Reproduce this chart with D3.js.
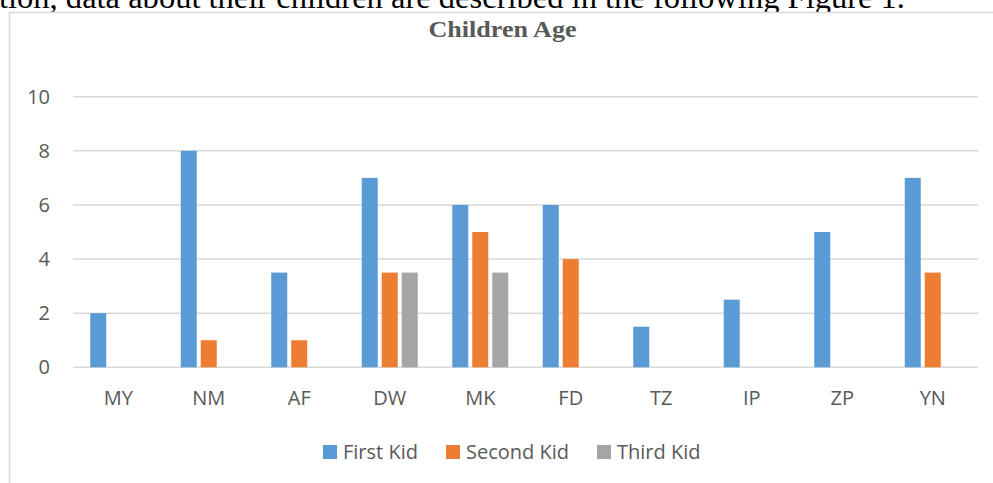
<!DOCTYPE html>
<html>
<head>
<meta charset="utf-8">
<script src="https://cdn.jsdelivr.net/npm/d3@7"></script>
<style>
  html, body { margin: 0; padding: 0; background: #fff; overflow: hidden; }
  svg { display: block; }
</style>
</head>
<body>
<svg id="chart" width="993" height="483"></svg>
<script>
// Chart data
const categories = ["MY", "NM", "AF", "DW", "MK", "FD", "TZ", "IP", "ZP", "YN"];
const seriesNames = ["First Kid", "Second Kid", "Third Kid"];
const firstKid  = [2, 8, 3.5, 7, 6, 6, 1.5, 2.5, 5, 7];
const secondKid = [0, 1, 1, 3.5, 5, 4, 0, 0, 0, 3.5];
const thirdKid  = [0, 0, 0, 3.5, 3.5, 0, 0, 0, 0, 0];
const yTicks = [0, 2, 4, 6, 8, 10];
const colors = ["#5b9bd5", "#ed7d31", "#a5a5a5"];

const series = [firstKid, secondKid, thirdKid];
const svg = d3.select("#chart");
const labelFont = "Open Sans, sans-serif";

// Running text of the document above the figure
svg.append("text")
  .attr("x", -1).attr("y", 8)
  .attr("font-family", "Liberation Serif, serif")
  .attr("font-size", 32)
  .attr("textLength", 906)
  .attr("lengthAdjust", "spacingAndGlyphs")
  .attr("fill", "#000")
  .text("tion, data about their children are described in the following Figure 1.");

// Chart frame
svg.append("rect")
  .attr("x", 9.5).attr("y", 12.5)
  .attr("width", 1100).attr("height", 600)
  .attr("fill", "#fff")
  .attr("stroke", "#d9d9d9")
  .attr("stroke-width", 1.5);

// Title
svg.append("text")
  .attr("x", 502.5).attr("y", 37)
  .attr("text-anchor", "middle")
  .attr("font-family", "Liberation Serif, serif")
  .attr("font-weight", "bold")
  .attr("font-size", 23)
  .attr("textLength", 148)
  .attr("lengthAdjust", "spacingAndGlyphs")
  .attr("fill", "#595959")
  .text("Children Age");

const x0 = d3.scaleBand().domain(categories).range([73, 978]);
const y = d3.scaleLinear().domain([0, 10]).range([367.3, 96.7]);
const x1 = d3.scaleBand().domain(d3.range(3)).range([-28, 28]).paddingInner(0.2);

// Gridlines
svg.append("g")
  .selectAll("line")
  .data(yTicks)
  .join("line")
  .attr("x1", 73).attr("x2", 978)
  .attr("y1", d => y(d)).attr("y2", d => y(d))
  .attr("stroke", "#d9d9d9")
  .attr("stroke-width", 1.5);

// Y axis labels
const yAxis = d3.axisLeft(y).tickValues(yTicks).tickSize(0).tickPadding(0);
const gy = svg.append("g").attr("transform", "translate(50,0)").call(yAxis);
gy.select(".domain").remove();
gy.selectAll("text")
  .attr("font-family", labelFont)
  .attr("font-size", 20)
  .attr("fill", "#595959");

// X axis labels
const xAxis = d3.axisBottom(x0).tickSize(0).tickPadding(0);
const gx = svg.append("g").attr("transform", "translate(0,405)").call(xAxis);
gx.select(".domain").remove();
gx.selectAll("text")
  .attr("dy", 0)
  .attr("font-family", labelFont)
  .attr("font-size", 20)
  .attr("fill", "#595959");

// Bars
const groups = svg.append("g")
  .selectAll("g")
  .data(categories)
  .join("g")
  .attr("transform", d => `translate(${x0(d) + x0.bandwidth() / 2},0)`);

groups.selectAll("rect")
  .data((d, i) => series.map((s, k) => ({ k, v: s[i] })).filter(o => o.v > 0))
  .join("rect")
  .attr("x", o => x1(o.k))
  .attr("width", x1.bandwidth())
  .attr("y", o => y(o.v))
  .attr("height", o => y(0) - y(o.v))
  .attr("fill", o => colors[o.k]);

// Legend
const legendItems = [
  { name: seriesNames[0], x: 323 },
  { name: seriesNames[1], x: 446 },
  { name: seriesNames[2], x: 597 }
];
const lg = svg.append("g").selectAll("g").data(legendItems).join("g")
  .attr("transform", d => `translate(${d.x},445)`);
lg.append("rect").attr("width", 14).attr("height", 14)
  .attr("fill", (d, i) => colors[i]);
lg.append("text")
  .attr("x", 20).attr("y", 14)
  .attr("font-family", labelFont)
  .attr("font-size", 20)
  .attr("fill", "#595959")
  .text(d => d.name);
</script>
</body>
</html>
